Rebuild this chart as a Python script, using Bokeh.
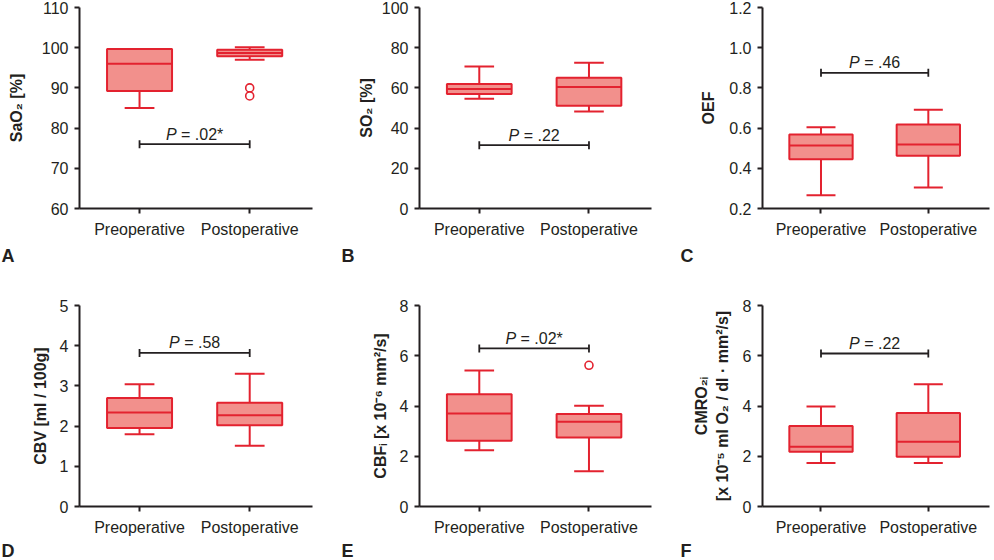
import math
from bokeh.plotting import figure
from bokeh.layouts import column, row
from bokeh.models import FixedTicker, Range1d, Title
from bokeh.core.properties import value
from bokeh.embed import file_html
from bokeh.resources import INLINE

# ---------------- data ----------------
groups = ["Preoperative", "Postoperative"]

# A: SaO2 [%]
sao2_low = [85.0, 97.0]
sao2_q1 = [89.2, 97.9]
sao2_median = [96.0, 98.7]
sao2_q3 = [99.7, 99.5]
sao2_high = [99.7, 100.1]
sao2_outliers = [[], [90.0, 88.0]]
sao2_p = ".02*"
sao2_bracket = 76.0
sao2_ticks = [60, 70, 80, 90, 100, 110]
sao2_tick_labels = ["60", "70", "80", "90", "100", "110"]

# B: SO2 [%]
so2_low = [54.6, 48.3]
so2_q1 = [57.0, 51.1]
so2_median = [59.5, 60.4]
so2_q3 = [62.0, 65.0]
so2_high = [70.6, 72.5]
so2_outliers = [[], []]
so2_p = ".22"
so2_bracket = 31.5
so2_ticks = [0, 20, 40, 60, 80, 100]
so2_tick_labels = ["0", "20", "40", "60", "80", "100"]

# C: OEF
oef_low = [0.266, 0.304]
oef_q1 = [0.445, 0.462]
oef_median = [0.513, 0.518]
oef_q3 = [0.568, 0.618]
oef_high = [0.604, 0.691]
oef_outliers = [[], []]
oef_p = ".46"
oef_bracket = 0.875
oef_ticks = [0.2, 0.4, 0.6, 0.8, 1.0, 1.2]
oef_tick_labels = ["0.2", "0.4", "0.6", "0.8", "1.0", "1.2"]

# D: CBV [ml / 100g]
cbv_low = [1.80, 1.51]
cbv_q1 = [1.95, 2.02]
cbv_median = [2.34, 2.27]
cbv_q3 = [2.70, 2.58]
cbv_high = [3.04, 3.30]
cbv_outliers = [[], []]
cbv_p = ".58"
cbv_bracket = 3.82
cbv_ticks = [0, 1, 2, 3, 4, 5]
cbv_tick_labels = ["0", "1", "2", "3", "4", "5"]

# E: CBFi
cbf_low = [2.24, 1.40]
cbf_q1 = [2.62, 2.75]
cbf_median = [3.70, 3.37]
cbf_q3 = [4.47, 3.68]
cbf_high = [5.41, 4.01]
cbf_outliers = [[], [5.62]]
cbf_p = ".02*"
cbf_bracket = 6.29
cbf_ticks = [0, 2, 4, 6, 8]
cbf_tick_labels = ["0", "2", "4", "6", "8"]

# F: CMRO2i
cmro_low = [1.73, 1.73]
cmro_q1 = [2.18, 1.98]
cmro_median = [2.38, 2.58]
cmro_q3 = [3.20, 3.72]
cmro_high = [3.98, 4.87]
cmro_outliers = [[], []]
cmro_p = ".22"
cmro_bracket = 6.09
cmro_ticks = [0, 2, 4, 6, 8]
cmro_tick_labels = ["0", "2", "4", "6", "8"]

panels = [
    dict(letter="A", ylabel="SaO₂ [%]", low=sao2_low, q1=sao2_q1, med=sao2_median, q3=sao2_q3,
         high=sao2_high, out=sao2_outliers, p=sao2_p, br=sao2_bracket, ticks=sao2_ticks, tl=sao2_tick_labels),
    dict(letter="B", ylabel="SO₂ [%]", low=so2_low, q1=so2_q1, med=so2_median, q3=so2_q3,
         high=so2_high, out=so2_outliers, p=so2_p, br=so2_bracket, ticks=so2_ticks, tl=so2_tick_labels),
    dict(letter="C", ylabel="OEF", low=oef_low, q1=oef_q1, med=oef_median, q3=oef_q3,
         high=oef_high, out=oef_outliers, p=oef_p, br=oef_bracket, ticks=oef_ticks, tl=oef_tick_labels),
    dict(letter="D", ylabel="CBV [ml / 100g]", low=cbv_low, q1=cbv_q1, med=cbv_median, q3=cbv_q3,
         high=cbv_high, out=cbv_outliers, p=cbv_p, br=cbv_bracket, ticks=cbv_ticks, tl=cbv_tick_labels),
    dict(letter="E", ylabel="CBFᵢ [x 10⁻⁶ mm²/s]", low=cbf_low, q1=cbf_q1, med=cbf_median, q3=cbf_q3,
         high=cbf_high, out=cbf_outliers, p=cbf_p, br=cbf_bracket, ticks=cbf_ticks, tl=cbf_tick_labels),
    dict(letter="F", ylabel="CMRO₂ᵢ\n[x 10⁻⁵ ml O₂ / dl · mm²/s]", low=cmro_low, q1=cmro_q1, med=cmro_median,
         q3=cmro_q3, high=cmro_high, out=cmro_outliers, p=cmro_p, br=cmro_bracket, ticks=cmro_ticks,
         tl=cmro_tick_labels),
]

# ---------------- style ----------------
FONT = "Liberation Sans"
EDGE = "#E3222F"
FILL = "#F2908C"
INK = "#231F20"
FS = 16

CHAR_W = {"P": 0.667, " ": 0.278, "=": 0.584, ".": 0.278, "*": 0.389}


def text_width(s, size):
    return sum(CHAR_W.get(c, 0.556) for c in s) * size


# (border_left, frame_width, border_right, letter_offset)
col_layout = [(79, 233, 19, -78), (88, 232, 11, -78), (100, 227, 4, -82)]
# (border_top, frame_height, border_bottom, title_standoff)
row_layout = [(7, 201, 72, 6), (25, 201, 53, 0)]
label_standoff = {"A": 14, "B": 4, "C": 9, "D": 8, "E": 8, "F": 9}


def make_panel(d, ci, ri):
    bl, fw, br, loff = col_layout[ci]
    bt, fh, bb, tstand = row_layout[ri]
    xs = [i + 1 for i in range(len(groups))]
    p = figure(frame_width=fw, frame_height=fh, min_border_left=bl, min_border_right=br,
               min_border_top=bt, min_border_bottom=bb,
               x_range=Range1d(0.455, 2.57), y_range=Range1d(d["ticks"][0], d["ticks"][-1]),
               output_backend="svg", toolbar_location=None, tools="")
    p.outline_line_color = None
    p.xgrid.visible = False
    p.ygrid.visible = False

    bw = 0.59
    cw = 0.27
    # whiskers
    p.segment(x0=xs, x1=xs, y0=d["q3"], y1=d["high"], line_color=EDGE, line_width=2)
    p.segment(x0=xs, x1=xs, y0=d["q1"], y1=d["low"], line_color=EDGE, line_width=2)
    p.segment(x0=[x - cw / 2 for x in xs], x1=[x + cw / 2 for x in xs], y0=d["high"], y1=d["high"],
              line_color=EDGE, line_width=2)
    p.segment(x0=[x - cw / 2 for x in xs], x1=[x + cw / 2 for x in xs], y0=d["low"], y1=d["low"],
              line_color=EDGE, line_width=2)
    # boxes
    p.vbar(x=xs, width=bw, bottom=d["q1"], top=d["q3"], fill_color=FILL, line_color=EDGE, line_width=2)
    p.segment(x0=[x - bw / 2 for x in xs], x1=[x + bw / 2 for x in xs], y0=d["med"], y1=d["med"],
              line_color=EDGE, line_width=2)
    # outliers
    ox, oy = [], []
    for x, vals in zip(xs, d["out"]):
        for v in vals:
            ox.append(x)
            oy.append(v)
    if ox:
        p.scatter(x=ox, y=oy, marker="circle", size=8, line_color=EDGE, fill_color="white", line_width=1.6)

    # significance bracket
    b = d["br"]
    xm = sum(xs) / len(xs)
    p.segment(x0=[xs[0]], x1=[xs[-1]], y0=[b], y1=[b], line_color=INK, line_width=1.8)
    p.scatter(x=xs, y=[b] * len(xs), marker="dash", angle=math.pi / 2, size=8, line_color=INK, line_width=1.8)
    rest = "= " + d["p"]
    wP = text_width("P", FS)
    wtot = wP + text_width(" ", FS) + text_width(rest, FS)
    p.text(x=[xm], y=[b], text=["P"], x_offset=-wtot / 2, y_offset=-10,
           text_font=value(FONT), text_font_style="italic", text_font_size=f"{FS}px",
           text_color=INK, text_align="left", text_baseline="alphabetic")
    p.text(x=[xm], y=[b], text=[rest], x_offset=-wtot / 2 + wP + text_width(" ", FS), y_offset=-10,
           text_font=value(FONT), text_font_size=f"{FS}px",
           text_color=INK, text_align="left", text_baseline="alphabetic")

    # axes
    for ax in (p.xaxis[0], p.yaxis[0]):
        ax.axis_line_color = INK
        ax.axis_line_width = 2
        ax.major_tick_line_color = INK
        ax.major_tick_line_width = 2
        ax.major_tick_out = 5
        ax.major_tick_in = 0
        ax.minor_tick_line_color = None
        ax.major_label_text_font = FONT
        ax.major_label_text_font_size = f"{FS}px"
        ax.major_label_text_color = INK
        ax.major_label_standoff = 6
    p.xaxis.ticker = FixedTicker(ticks=xs)
    p.xaxis.major_label_overrides = {x: g for x, g in zip(xs, groups)}
    p.xaxis.major_label_standoff = 7
    p.yaxis.ticker = FixedTicker(ticks=d["ticks"])
    p.yaxis.major_label_overrides = {t: s for t, s in zip(d["ticks"], d["tl"])}
    p.yaxis.axis_label = d["ylabel"]
    p.yaxis.axis_label_text_font = FONT
    p.yaxis.axis_label_text_font_style = "bold"
    p.yaxis.axis_label_text_font_size = f"{FS}px"
    p.yaxis.axis_label_text_color = INK
    p.yaxis.axis_label_standoff = label_standoff[d["letter"]]

    p.add_layout(Title(text=d["letter"], align="left", offset=loff, standoff=tstand,
                       text_font=FONT, text_font_style="bold", text_font_size="18px",
                       text_color=INK), "below")
    return p


figs = [make_panel(d, i % 3, i // 3) for i, d in enumerate(panels)]
layout = column(row(*figs[:3]), row(*figs[3:]))

open("out.html", "w").write(file_html(layout, INLINE))
